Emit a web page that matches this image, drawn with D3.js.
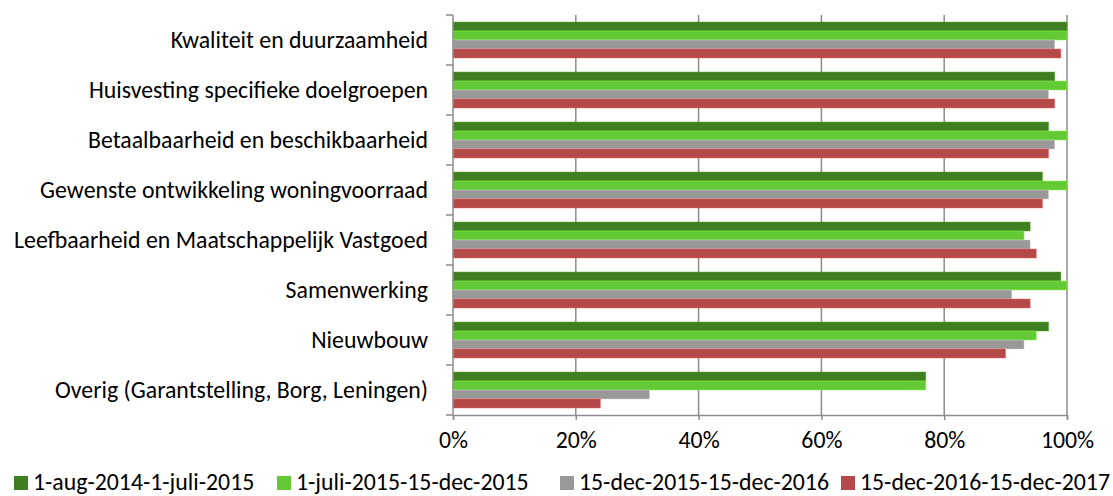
<!DOCTYPE html>
<html>
<head>
<meta charset="utf-8">
<script src="https://cdn.jsdelivr.net/npm/d3@7"></script>
<style>
body{margin:0;background:#fff;}
text{font-family:"Carlito","Open Sans",sans-serif;fill:#000;}
</style>
</head>
<body>
<svg id="chart" width="1113" height="496"></svg>
<script>
// categories from top to bottom
var categories=["Kwaliteit en duurzaamheid","Huisvesting specifieke doelgroepen","Betaalbaarheid en beschikbaarheid","Gewenste ontwikkeling woningvoorraad","Leefbaarheid en Maatschappelijk Vastgoed","Samenwerking","Nieuwbouw","Overig (Garantstelling, Borg, Leningen)"];
var seriesNames=["1-aug-2014-1-juli-2015","1-juli-2015-15-dec-2015","15-dec-2015-15-dec-2016","15-dec-2016-15-dec-2017"];
var period1=[1.00,0.98,0.97,0.96,0.94,0.99,0.97,0.77];
var period2=[1.00,1.00,1.00,1.00,0.93,1.00,0.95,0.77];
var period3=[0.98,0.97,0.98,0.97,0.94,0.91,0.93,0.32];
var period4=[0.99,0.98,0.97,0.96,0.95,0.94,0.90,0.24];
var xTicks=[0,0.2,0.4,0.6,0.8,1.0];
var colors=["#407e22","#63c935","#999999","#b34949"];

var LEFT=453,RIGHT=1067,TOP=15,BOTTOM=415;
var FONTSIZE="23.8px";
var svg=d3.select("#chart");
var allSeries=[period1,period2,period3,period4];

var x=d3.scaleLinear().domain([0,1]).range([LEFT,RIGHT]);
var y=d3.scaleBand().domain(categories).range([TOP,BOTTOM]).paddingInner(0.28).paddingOuter(0.14);
var yInner=d3.scaleBand().domain(d3.range(4)).range([0,y.bandwidth()]);

//网格线
svg.selectAll(".grid").data(xTicks.slice(1)).enter().append("line")
	.attr("x1",function(d){return x(d);})
	.attr("x2",function(d){return x(d);})
	.attr("y1",TOP)
	.attr("y2",BOTTOM)
	.style("stroke","#8c8c8c")
	.style("stroke-width","1.5px");

//柱子
categories.forEach(function(cat,ci){
	allSeries.forEach(function(s,si){
		var col=d3.color(colors[si]);
		svg.append("rect")
			.attr("x",x(0))
			.attr("y",y(cat)+yInner(si))
			.attr("width",x(s[ci])-x(0))
			.attr("height",yInner.bandwidth())
			.attr("fill",colors[si])
			.attr("stroke",col.brighter(0.9).formatHex())
			.attr("stroke-opacity",0.6)
			.attr("stroke-width",0.8);
	});
});

//x轴
var xAxis=svg.append("g").attr("transform","translate(0,"+BOTTOM+")")
	.call(d3.axisBottom(x).tickValues(xTicks).tickFormat(d3.format(".0%")).tickSize(5).tickPadding(11));
xAxis.select(".domain").style("stroke","#8c8c8c").style("stroke-width","1.5px");
xAxis.selectAll(".tick line").style("stroke","#8c8c8c").style("stroke-width","1.5px");
xAxis.selectAll("text").style("font-size",FONTSIZE).style("fill","#000").style("font-family","Carlito, 'Open Sans', sans-serif");

//y轴
var yBounds=d3.range(categories.length+1).map(function(i){return TOP+i*(BOTTOM-TOP)/categories.length;});
svg.append("line").attr("x1",LEFT).attr("x2",LEFT).attr("y1",TOP).attr("y2",BOTTOM)
	.style("stroke","#8c8c8c").style("stroke-width","1.5px");
svg.selectAll(".ytick").data(yBounds).enter().append("line")
	.attr("x1",LEFT-7).attr("x2",LEFT)
	.attr("y1",function(d){return d;}).attr("y2",function(d){return d;})
	.style("stroke","#8c8c8c").style("stroke-width","1.5px");
svg.selectAll(".ylabel").data(categories).enter().append("text")
	.text(function(d){return d;})
	.attr("x",428)
	.attr("y",function(d){return y(d)+y.bandwidth()/2;})
	.attr("dy","0.35em")
	.attr("text-anchor","end")
	.style("font-size",FONTSIZE);

//图例
var legendX=[14,277,560,841];
seriesNames.forEach(function(name,i){
	svg.append("rect").attr("x",legendX[i]).attr("y",476).attr("width",14).attr("height",14).attr("fill",colors[i]);
	svg.append("text").text(name).attr("x",legendX[i]+19).attr("y",490).style("font-size",FONTSIZE);
});
</script>
</body>
</html>
